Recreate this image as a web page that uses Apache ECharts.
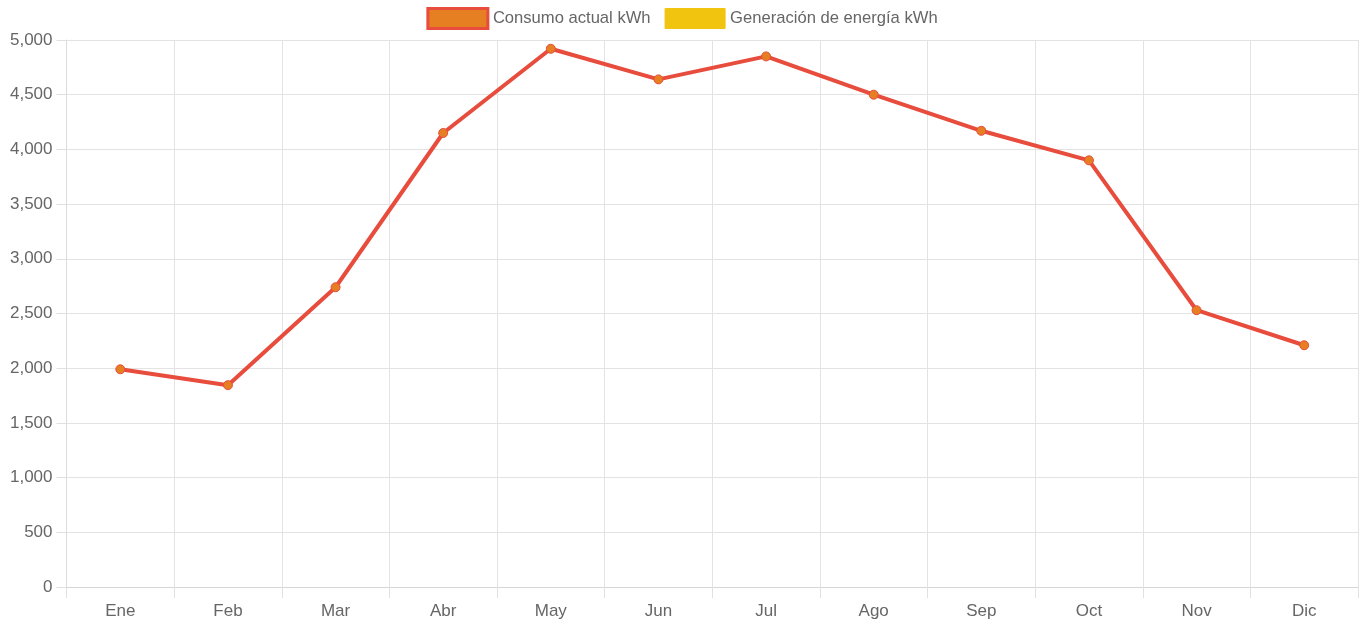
<!DOCTYPE html>
<html>
<head>
<meta charset="utf-8">
<title>Consumo</title>
<script src="https://cdn.jsdelivr.net/npm/echarts@6/dist/echarts.min.js"></script>
<style>
	html, body { margin: 0; padding: 0; background: #fff; }
	#chart { width: 1364px; height: 624px; }
</style>
</head>
<body>
<div id="chart"></div>
<script>
// datos
var meses = ["Ene", "Feb", "Mar", "Abr", "May", "Jun", "Jul", "Ago", "Sep", "Oct", "Nov", "Dic"];
var consumo = [1990, 1845, 2740, 4150, 4920, 4640, 4850, 4500, 4170, 3900, 2530, 2210];
var generacion = [];
var nombres = ["Consumo actual kWh", "Generación de energía kWh"];

var chart = echarts.init(document.getElementById("chart"));
var fuente = "'Liberation Sans', Arial, Helvetica, sans-serif";

var option = {
	animation: false,
	textStyle: {
		fontFamily: fuente
	},
	legend: {
		top: 7,
		left: 'center',
		padding: 0,
		itemWidth: 60,
		itemHeight: 20,
		itemGap: 14,
		icon: 'rect',
		textStyle: {
			color: '#666',
			fontSize: 16.6,
			fontFamily: fuente
		},
		data: [{
			name: nombres[0],
			itemStyle: {
				color: '#e67e22',
				borderColor: '#e74c3c',
				borderWidth: 3
			}
		}, {
			name: nombres[1],
			itemStyle: {
				color: '#f1c40f',
				borderColor: '#f1c40f',
				borderWidth: 1
			}
		}]
	},
	grid: {
		left: 66.5,
		right: 6,
		top: 40,
		bottom: 37,
		containLabel: false
	},
	xAxis: {
		type: 'category',
		boundaryGap: true,
		data: meses,
		axisLine: {
			lineStyle: { color: '#d6d6d6' }
		},
		axisTick: {
			show: true,
			length: 11,
			lineStyle: { color: '#e0e0e0' }
		},
		axisLabel: {
			color: '#666',
			fontSize: 17,
			margin: 16,
			fontFamily: fuente
		},
		splitLine: {
			show: true,
			lineStyle: { color: '#e3e3e3' }
		}
	},
	yAxis: {
		type: 'value',
		min: 0,
		max: 5000,
		interval: 500,
		axisLine: {
			show: true,
			lineStyle: { color: '#dcdcdc' }
		},
		axisTick: {
			show: true,
			length: 10,
			lineStyle: { color: '#e0e0e0' }
		},
		axisLabel: {
			color: '#666',
			fontSize: 17,
			margin: 14,
			fontFamily: fuente
		},
		splitLine: {
			show: true,
			lineStyle: { color: '#e3e3e3' }
		}
	},
	series: [{
		name: nombres[0],
		type: 'line',
		data: consumo,
		symbol: 'circle',
		symbolSize: 9,
		lineStyle: {
			color: '#e74c3c',
			width: 4
		},
		itemStyle: {
			color: '#e67e22',
			borderColor: '#e74c3c',
			borderWidth: 1
		}
	}, {
		name: nombres[1],
		type: 'line',
		data: generacion,
		itemStyle: { color: '#f1c40f' }
	}]
};
chart.setOption(option);
</script>
</body>
</html>
